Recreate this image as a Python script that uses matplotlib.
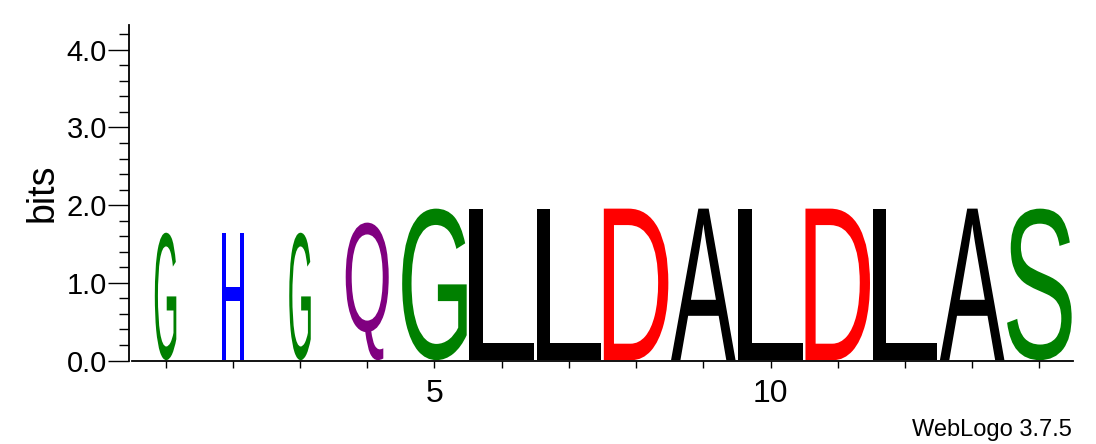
import matplotlib
matplotlib.use("Agg")
import matplotlib.pyplot as plt
from matplotlib.textpath import TextPath
from matplotlib.patches import PathPatch
from matplotlib.font_manager import FontProperties
from matplotlib.transforms import Affine2D
from matplotlib.ticker import MultipleLocator

# Datos del logo (una letra por posicion)
posiciones = list(range(1, 15))
letras = ["G", "H", "G", "Q", "G", "L", "L", "D", "A", "L", "D", "L", "A", "S"]
alturas = [1.64, 1.64, 1.64, 1.77, 1.95, 1.95, 1.95, 1.95, 1.95, 1.95, 1.95, 1.95, 1.95, 1.95]
ocupacion = [1/3, 1/3, 1/3, 2/3, 1, 1, 1, 1, 1, 1, 1, 1, 1, 1]  # fraccion sin huecos -> ancho de la pila
colores = {"G": "#008000", "S": "#008000", "H": "#0000ff", "Q": "#800080",
           "D": "#ff0000", "L": "#000000", "A": "#000000"}
etiquetas_x = {5: "5", 10: "10"}

fuente = FontProperties(family="Liberation Sans", weight="normal")

fig = plt.figure(figsize=(10.96, 4.44), dpi=100)
ax = fig.add_axes([0.1204, 0.188, 0.8586, 0.756])

for x, letra, h, frac in zip(posiciones, letras, alturas, ocupacion):
    tp = TextPath((0, 0), letra, size=1, prop=fuente)
    bb = tp.get_extents()
    ancho = 0.96 * frac
    t = (Affine2D().translate(-bb.x0, -bb.y0)
         .scale(ancho / bb.width, h / bb.height)
         .translate(x - ancho / 2, 0.005))
    ax.add_patch(PathPatch(t.transform_path(tp), color=colores[letra], lw=0))

ax.set_xlim(0.5, 14.5)
ax.set_ylim(0, 4.32)

for s in ["top", "right"]:
    ax.spines[s].set_visible(False)
ax.spines["left"].set_position(("outward", 2))
ax.spines["left"].set_linewidth(1.3)
ax.spines["bottom"].set_linewidth(1.3)

ax.set_xticks(posiciones)
ax.set_xticklabels([etiquetas_x.get(p, "") for p in posiciones])
ax.tick_params(axis="x", direction="out", length=5, width=1.0, pad=8, labelsize=23)

ax.yaxis.set_major_locator(MultipleLocator(1.0))
ax.yaxis.set_minor_locator(MultipleLocator(0.2))
ax.set_yticklabels([f"{v:.1f}" for v in ax.get_yticks()])
ax.tick_params(axis="y", which="major", direction="out", length=15, width=1.0, pad=1, labelsize=21)
ax.tick_params(axis="y", which="minor", direction="out", length=7.5, width=1.0)

for lbl in ax.get_xticklabels() + ax.get_yticklabels():
    lbl.set_family("Liberation Sans")

ax.set_ylabel("bits", fontsize=27, family="Liberation Sans", labelpad=4)

fig.text(0.978, 0.018, "WebLogo 3.7.5", ha="right", va="baseline",
         fontsize=17, family="Liberation Sans")

fig.savefig("out.png", dpi=100)
